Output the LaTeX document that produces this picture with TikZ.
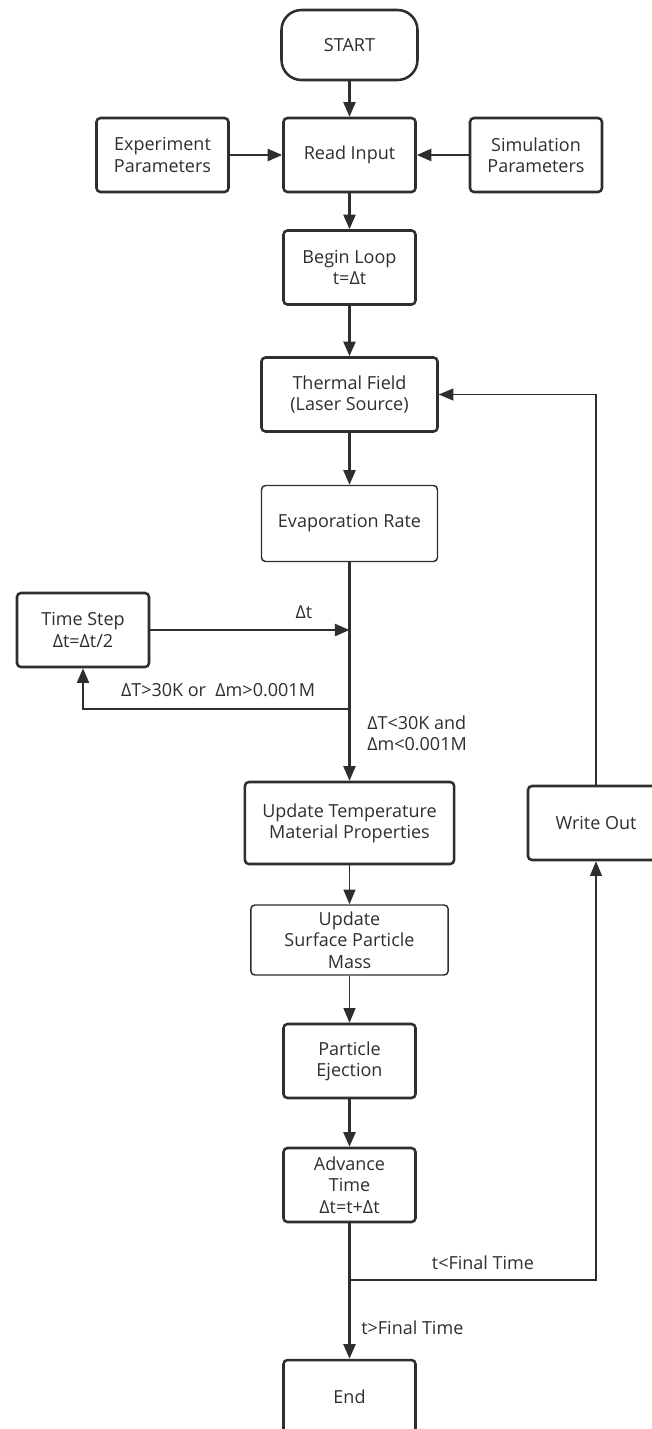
\documentclass[tikz,border=0pt]{standalone}
\usepackage{fontspec}
\setmainfont{Open Sans}
\usetikzlibrary{arrows.meta,positioning}

\definecolor{ink}{HTML}{2E2E2E}

\tikzset{
  block/.style={draw=ink, line width=1.9pt, rounded corners=3pt, align=center,
    text=ink, inner sep=0pt, minimum width=99pt, minimum height=55.5pt},
  blockthin/.style={block, line width=1.1pt},
  flow/.style={draw=ink, line width=1.9pt, -{Triangle[length=11pt,width=9pt]}},
  flowthin/.style={flow, line width=1.1pt},
  lbl/.style={text=ink, inner sep=0pt}
}

\begin{document}
\begin{tikzpicture}[x=0.75pt, y=-0.75pt, font=\fontsize{13.5}{16}\selectfont]
%      \draw[help lines] (0,0) grid (651,1429);
      \useasboundingbox (0,0) rectangle (651,1429);

      % input stage
      \node[block, rounded corners=15pt, minimum width=102pt, minimum height=52.5pt] (start) at (349.5,45) {START};
      \node[block] (read)  at (349.5,155) {Read Input};
      \node[block] (expt)  at (162.5,155) {Experiment\\Parameters};
      \node[block] (simp)  at (536,155)   {Simulation\\Parameters};
      \node[block] (begin) at (349.5,267.5) {Begin Loop\\t=Δt};

      % time loop
      \node[block, minimum width=132pt] (thermal) at (349.5,394.5) {Thermal Field\\(Laser Source)};
      \node[blockthin, minimum width=132pt, minimum height=57pt] (evap) at (349.5,523.5) {Evaporation Rate};
      \node[block] (tstep) at (83,630) {Time Step\\Δt=Δt/2};
      \node[block, minimum width=157pt, minimum height=61.5pt] (updT) at (349.5,823) {Update Temperature\\Material Properties};
      \node[blockthin, minimum width=148pt, minimum height=52.5pt] (upds) at (349.5,940) {Update\\Surface Particle\\Mass};
      \node[block] (eject) at (349.5,1061) {Particle\\Ejection};
      \node[block] (adv)   at (349.5,1185) {Advance\\Time\\Δt=t+Δt};
      \node[block, minimum width=102pt] (wout) at (596,823) {Write Out};
      \node[block] (stop)  at (349.5,1397) {End};

      \coordinate (dtin) at (evap.south |- tstep.east);
      \coordinate (chk)  at (349.5,709);
      \coordinate (fin)  at (349.5,1280);

      \draw[flow] (start) -- (read);
      \draw[flow] (expt) -- (read);
      \draw[flow] (simp) -- (read);
      \draw[flow] (read) -- (begin);
      \draw[flow] (begin) -- (thermal);
      \draw[flow] (thermal) -- (evap);
      \draw[flow] (evap) -- (updT);

      \draw[flow] (tstep.east) -- (dtin);
      \node[lbl] (dtlbl) at (304,612) {Δt};
      \draw[flow, line width=1.5pt] (chk) -| (tstep.south);
      \node[lbl] (badlbl) at (218,690) {ΔT>30K or \ Δm>0.001M};
      \node[lbl, anchor=west, align=left] (oklbl) at (367,733) {ΔT<30K and\\Δm<0.001M};

      \draw[flowthin] (updT) -- (upds);
      \draw[flowthin] (upds) -- (eject);
      \draw[flow] (eject) -- (adv);
      \draw[flow] (adv) -- (stop);
      \node[lbl, anchor=west] (gtlbl) at (361,1328) {t>Final Time};

      \draw[flowthin] (fin) -| (wout.south);
      \node[lbl] (ltlbl) at (483,1263) {t<Final Time};
      \draw[flowthin] (wout.north) |- (thermal.east);
\end{tikzpicture}
\end{document}
